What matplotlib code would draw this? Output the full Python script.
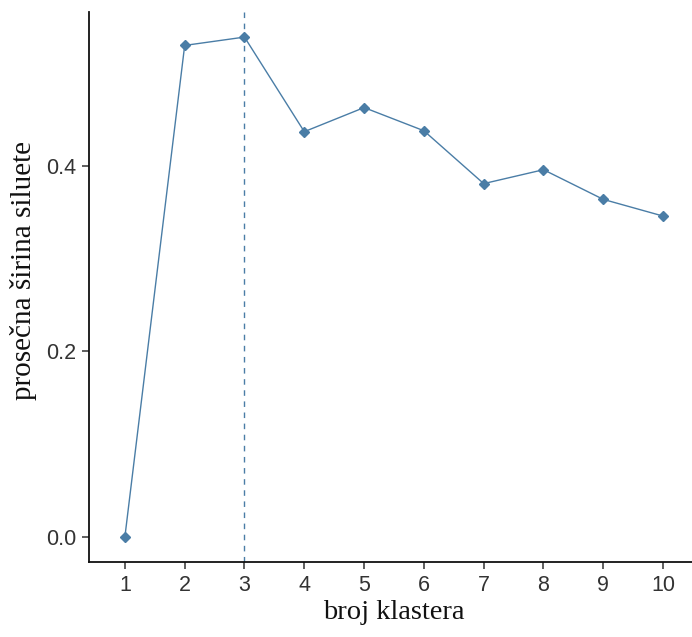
import numpy as np
import matplotlib.pyplot as plt

# silhouette width per number of clusters
n_clusters = [1, 2, 3, 4, 5, 6, 7, 8, 9, 10]
avg_width = [0.0, 0.530, 0.539, 0.437, 0.463, 0.438, 0.381, 0.396, 0.364, 0.346]
best_k = 3
y_ticks = [0.0, 0.2, 0.4]

color = "#4A7DA6"

fig = plt.figure(figsize=(6.92, 6.37), dpi=100)
ax = fig.add_axes([0.1286, 0.1177, 0.8815, 0.8634])

ax.plot(n_clusters, avg_width, color=color, lw=1.0, marker="D", ms=5.5, mec=color, mfc=color, zorder=3)
ax.axvline(best_k, color=color, lw=1.0, ls=(0, (4, 4)))

ax.set_xlim(0.4, 10.6)
ax.set_ylim(-0.027, 0.566)
ax.set_xticks(n_clusters)
ax.set_yticks(y_ticks)
ax.set_yticklabels([f"{v:.1f}" for v in y_ticks])

for side in ["top", "right"]:
    ax.spines[side].set_visible(False)
for side in ["left", "bottom"]:
    ax.spines[side].set_linewidth(1.3)
    ax.spines[side].set_color("#111111")
ax.tick_params(length=5, width=1.1, color="#333333", labelsize=15.5, pad=4,
               labelcolor="#333333")
for lbl in ax.get_xticklabels() + ax.get_yticklabels():
    lbl.set_family("Liberation Sans")

ax.set_xlabel("broj klastera", family="Liberation Serif", fontsize=20.5, labelpad=3, color="#111111")
ax.set_ylabel("prosečna širina siluete", family="Liberation Serif", fontsize=21, labelpad=6, color="#111111")
ax.yaxis.set_label_coords(-0.085, 0.53)

fig.savefig("out.png", dpi=100)
